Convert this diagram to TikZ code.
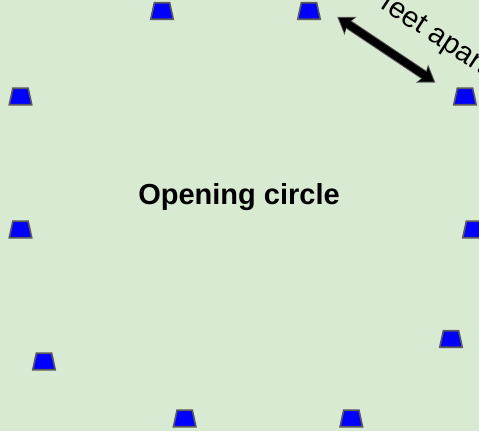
\documentclass[tikz,border=0pt]{standalone}
\usepackage{fontspec}
\setmainfont{Liberation Sans}
\usetikzlibrary{arrows.meta}
\definecolor{bg}{HTML}{D9EAD3}
\definecolor{conegray}{HTML}{5A5A5A}
\newcommand{\mycone}[2]{%
  \coordinate (#1) at (#2);
  \draw[conestyle] (#1) ++(-11.25,8.25) -- ++(22.5,0) -- ++(-3.6,-16.5) -- ++(-15.3,0) -- cycle;}
\begin{document}
\begin{tikzpicture}[x=1pt,y=-1pt,
  conestyle/.style={fill=blue, draw=conegray, line width=1.6pt, line join=miter},
  lbl/.style={font=\fontsize{29}{34}\selectfont, inner sep=0pt},
  tipout/.style={{Stealth[length=16pt,width=22pt,inset=3.5pt,line width=0pt]}-{Stealth[length=16pt,width=22pt,inset=3.5pt,line width=0pt]}},
  tipin/.style={{Stealth[length=13pt,width=18pt,inset=3pt,line width=0pt]}-{Stealth[length=13pt,width=18pt,inset=3pt,line width=0pt]}}]
\useasboundingbox (0,0) rectangle (479,431);
\clip (0,0) rectangle (479,431);
\fill[bg] (0,0) rectangle (479,431);
% cones
\mycone{c1}{162,11}
\mycone{c2}{309,11}
\mycone{c3}{465,96.5}
\mycone{c4}{20.5,96.5}
\mycone{c5}{20.5,229.5}
\mycone{c6}{474,229.5}
\mycone{c7}{44,361.5}
\mycone{c8}{451,339}
\mycone{c9}{184.7,418.5}
\mycone{c10}{351.3,418.5}
% label
\node[lbl, anchor=base] (title) at (239,204.3) {\bfseries Opening circle};
% distance arrow
\coordinate (a1) at (337.3,17);
\coordinate (a2) at (435.3,82.5);
\draw[conegray, line width=9.5pt, tipout] (a1) -- (a2);
\draw[black, line width=7.5pt, tipin, shorten <=1.8pt, shorten >=1.8pt] (a1) -- (a2);
\node[lbl, rotate=-33, anchor=base west] (dist) at (345.3,-14.1) {10 feet apart};
\end{tikzpicture}
\end{document}
